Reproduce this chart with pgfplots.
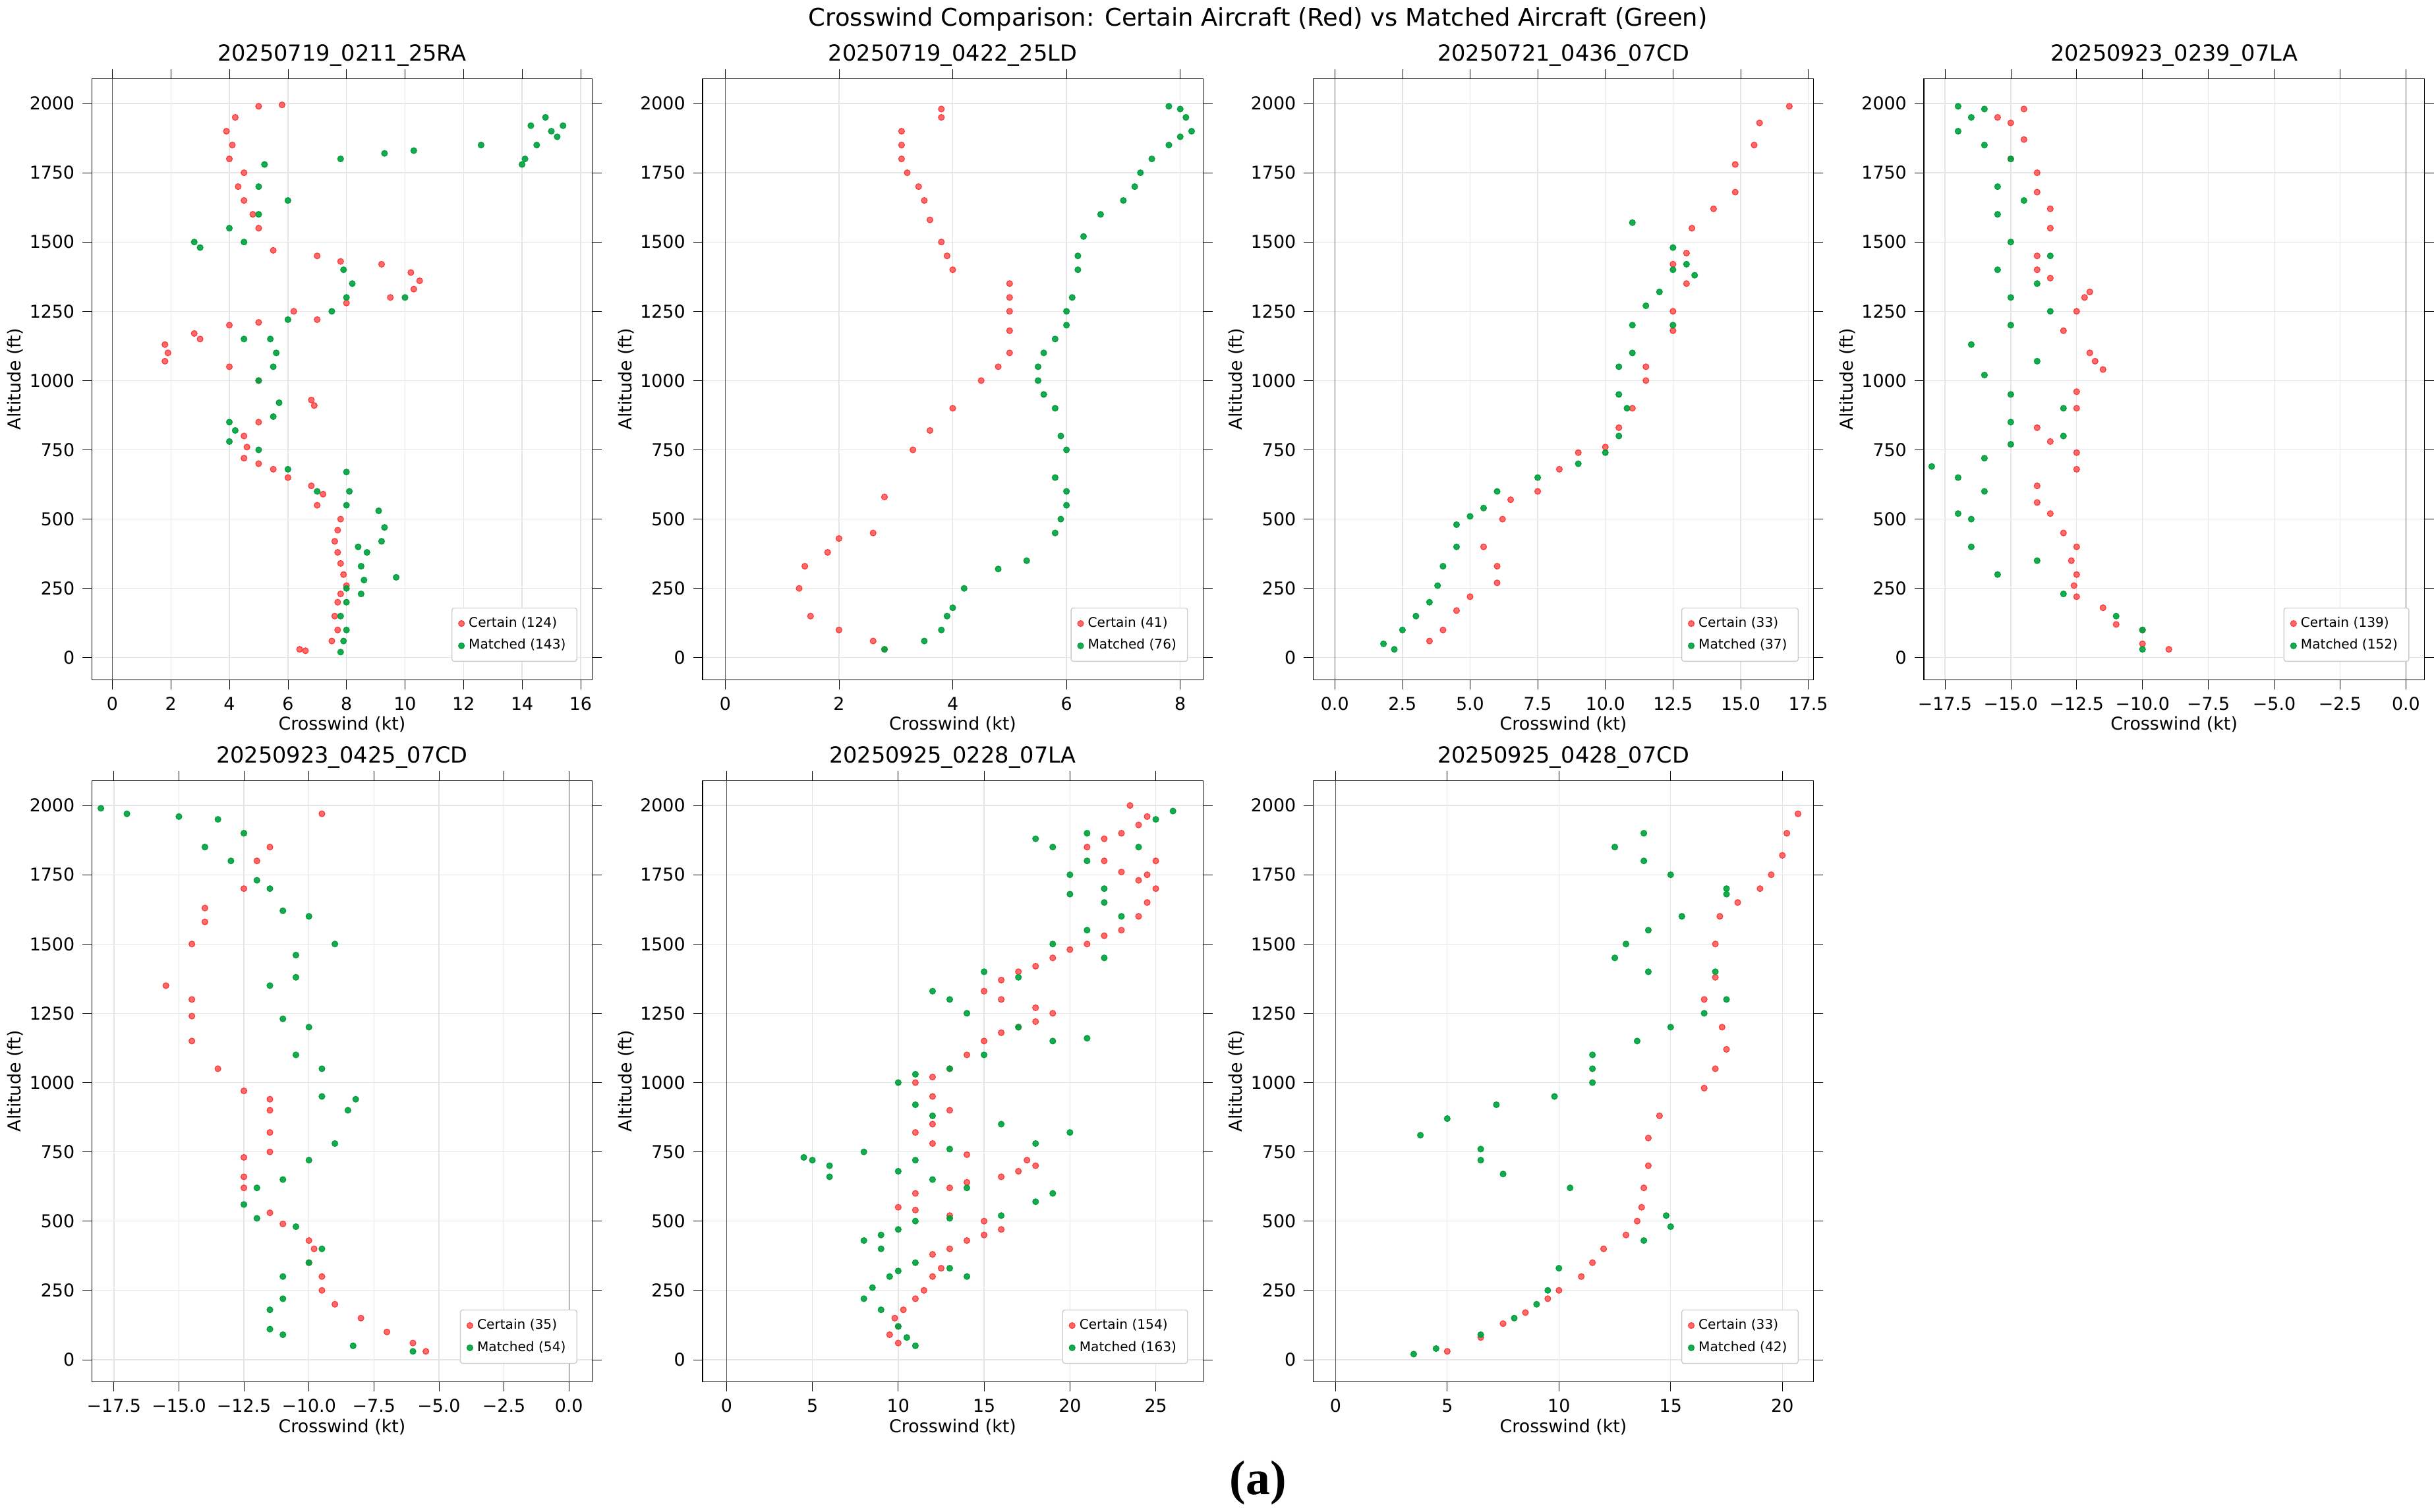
\documentclass[border=0pt]{standalone}
\usepackage{pgfplots}
\pgfplotsset{compat=1.18}
\usepgfplotslibrary{groupplots}
\usepackage{fontspec}
\setmainfont{DejaVu Sans}
\newfontfamily\serifb{Liberation Serif}
\definecolor{cred}{RGB}{255,60,60}
\definecolor{cgreen}{RGB}{0,160,60}
\pgfplotsset{
 every axis/.style={scale only axis, width=7.95cm, height=9.55cm,
  ymin=-80, ymax=2090, ytick={0,250,...,2000},
  grid=major, grid style={gray!20, line width=0.4pt},
  tick align=outside, tick style={black},
  font=\fontsize{8}{9}\selectfont,
  /pgf/number format/assume math mode=true,
  /pgf/number format/.cd, 1000 sep={}, /pgfplots/.cd,
  title style={font=\fontsize{10}{11}\selectfont, yshift=-4pt},
  xlabel={Crosswind (kt)}, ylabel={Altitude (ft)},
  xlabel style={yshift=4pt}, ylabel style={yshift=-4pt},
  legend pos=south east, legend cell align=left,
  legend style={font=\fontsize{6}{7}\selectfont, draw=gray!40, rounded corners=1pt},
 },
 cs/.style={only marks, mark=*, mark size=1.3pt, color=cred, mark options={draw=none, fill=cred, fill opacity=0.75}},
 ms/.style={only marks, mark=*, mark size=1.3pt, color=cgreen, mark options={draw=none, fill=cgreen, fill opacity=0.9}},
}
\newcommand{\zl}{\addplot[gray!70!black, forget plot] coordinates {(0,-300)(0,2300)};}
\begin{document}
\begin{tikzpicture}
\begin{groupplot}[group style={group size=4 by 2, horizontal sep=1.75cm, vertical sep=1.6cm}]
\nextgroupplot[title={20250719\_0211\_25RA}, xmin=-0.7, xmax=16.4, xtick={0,2,...,16}]
\zl
\addplot[cs] coordinates {(6.4,30)(6.6,25)(7.5,60)(7.7,100)(7.6,150)(7.7,200)(7.8,230)(8,260)(7.9,300)(7.8,340)(7.7,380)(7.6,420)(7.7,460)(7.8,500)(7,550)(7.2,590)(6.8,620)(6,650)(5.5,680)(5,700)(4.5,720)(4.6,760)(4.5,800)(5,850)(6.8,930)(6.9,910)(5,1000)(4,1050)(1.8,1070)(1.9,1100)(1.8,1130)(2.8,1170)(3,1150)(4,1200)(5,1210)(6.2,1250)(7,1220)(8,1280)(9.5,1300)(10.3,1330)(10.5,1360)(10.2,1390)(9.2,1420)(7.8,1430)(7,1450)(5.5,1470)(5,1550)(4.8,1600)(4.5,1650)(4.3,1700)(4.5,1750)(4,1800)(4.1,1850)(3.9,1900)(4.2,1950)(5,1990)(5.8,1995)};
\addplot[ms] coordinates {(7.8,20)(7.9,60)(8,100)(7.8,150)(8,200)(8,250)(8.5,230)(8.6,280)(8.5,330)(8.7,380)(8.4,400)(9.7,290)(9.2,420)(9.3,470)(9.1,530)(8,550)(8.1,600)(8,670)(7,600)(6,680)(5,750)(4,780)(4.2,820)(4,850)(5.5,870)(5.7,920)(5,1000)(5.5,1050)(5.6,1100)(5.4,1150)(4.5,1150)(6,1220)(7.5,1250)(8,1300)(8.2,1350)(7.9,1400)(10,1300)(3,1480)(2.8,1500)(4.5,1500)(4,1550)(5,1600)(6,1650)(5,1700)(5.2,1780)(7.8,1800)(9.3,1820)(10.3,1830)(12.6,1850)(14,1780)(14.1,1800)(14.5,1850)(14.3,1920)(14.8,1950)(15.2,1880)(15.4,1920)(15,1900)};
\legend{Certain (124), Matched (143)}
\nextgroupplot[title={20250719\_0422\_25LD}, xmin=-0.4, xmax=8.4, xtick={0,2,...,8}]
\zl
\addplot[cs] coordinates {(2.8,30)(2.6,60)(2,100)(1.5,150)(1.3,250)(1.4,330)(1.8,380)(2,430)(2.6,450)(2.8,580)(3.3,750)(3.6,820)(4,900)(4.5,1000)(4.8,1050)(5,1100)(5,1180)(5,1250)(5,1300)(5,1350)(4,1400)(3.9,1450)(3.8,1500)(3.6,1580)(3.5,1650)(3.4,1700)(3.2,1750)(3.1,1800)(3.1,1850)(3.1,1900)(3.8,1950)(3.8,1980)};
\addplot[ms] coordinates {(2.8,30)(3.5,60)(3.8,100)(3.9,150)(4,180)(4.2,250)(4.8,320)(5.3,350)(5.8,450)(5.9,500)(6,550)(6,600)(5.8,650)(6,750)(5.9,800)(5.8,900)(5.6,950)(5.5,1000)(5.5,1050)(5.6,1100)(5.8,1150)(6,1200)(6,1250)(6.1,1300)(6.2,1400)(6.2,1450)(6.3,1520)(6.6,1600)(7,1650)(7.2,1700)(7.3,1750)(7.5,1800)(7.8,1850)(8,1880)(8.2,1900)(8.1,1950)(8,1980)(7.8,1990)};
\legend{Certain (41), Matched (76)}
\nextgroupplot[title={20250721\_0436\_07CD}, xmin=-0.8, xmax=17.7, xtick={0,2.5,...,17.5}, xticklabels={0.0,2.5,5.0,7.5,10.0,12.5,15.0,17.5}]
\zl
\addplot[cs] coordinates {(3.5,60)(4,100)(4.5,170)(5,220)(6,270)(6,330)(5.5,400)(6.2,500)(6.5,570)(7.5,600)(8.3,680)(9,740)(10,760)(10.5,830)(11,900)(11.5,1000)(11.5,1050)(12.5,1180)(12.5,1250)(13,1350)(13,1460)(12.5,1420)(13.2,1550)(14,1620)(14.8,1680)(14.8,1780)(15.5,1850)(15.7,1930)(16.8,1990)};
\addplot[ms] coordinates {(1.8,50)(2.2,30)(2.5,100)(3,150)(3.5,200)(3.8,260)(4,330)(4.5,400)(4.5,480)(5,510)(5.5,540)(6,600)(7.5,650)(9,700)(10,740)(10.5,800)(10.8,900)(10.5,950)(10.5,1050)(11,1100)(11,1200)(11.5,1270)(12,1320)(12.5,1400)(12.5,1480)(13,1420)(13.3,1380)(12.5,1200)(11,1570)};
\legend{Certain (33), Matched (37)}
\nextgroupplot[title={20250923\_0239\_07LA}, xmin=-18.3, xmax=0.7, xtick={-17.5,-15,...,0}, xticklabels={−17.5,−15.0,−12.5,−10.0,−7.5,−5.0,−2.5,0.0}]
\zl
\addplot[cs] coordinates {(-9,30)(-10,50)(-10,100)(-11,120)(-11.5,180)(-12.5,220)(-12.6,260)(-12.5,300)(-12.7,350)(-12.5,400)(-13,450)(-13.5,520)(-14,560)(-14,620)(-12.5,680)(-12.5,740)(-13.5,780)(-14,830)(-12.5,900)(-12.5,960)(-11.5,1040)(-11.8,1070)(-12,1100)(-13,1180)(-12.5,1250)(-12,1320)(-12.2,1300)(-13.5,1370)(-14,1400)(-14,1450)(-13.5,1550)(-13.5,1620)(-14,1680)(-14,1750)(-15,1800)(-14.5,1870)(-15,1930)(-14.5,1980)(-15.5,1950)};
\addplot[ms] coordinates {(-10,30)(-10,100)(-11,150)(-13,230)(-15.5,300)(-14,350)(-16.5,400)(-16.5,500)(-17,520)(-16,600)(-17,650)(-18,690)(-16,720)(-15,770)(-13,800)(-15,850)(-13,900)(-15,950)(-16,1020)(-14,1070)(-16.5,1130)(-15,1200)(-13.5,1250)(-15,1300)(-14,1350)(-15.5,1400)(-13.5,1450)(-15,1500)(-15.5,1600)(-14.5,1650)(-15.5,1700)(-15,1800)(-16,1850)(-17,1900)(-16.5,1950)(-17,1990)(-16,1980)};
\legend{Certain (139), Matched (152)}
\nextgroupplot[title={20250923\_0425\_07CD}, xmin=-18.35, xmax=0.9, xtick={-17.5,-15,...,0}, xticklabels={−17.5,−15.0,−12.5,−10.0,−7.5,−5.0,−2.5,0.0}]
\zl
\addplot[cs] coordinates {(-5.5,30)(-6,60)(-7,100)(-8,150)(-9,200)(-9.5,250)(-9.5,300)(-10,350)(-9.8,400)(-10,430)(-11,490)(-11.5,530)(-12.5,620)(-12.5,660)(-12.5,730)(-11.5,750)(-11.5,820)(-11.5,900)(-11.5,940)(-12.5,970)(-13.5,1050)(-14.5,1150)(-14.5,1240)(-14.5,1300)(-15.5,1350)(-14.5,1500)(-14,1580)(-14,1630)(-12.5,1700)(-12,1800)(-11.5,1850)(-9.5,1970)};
\addplot[ms] coordinates {(-6,30)(-8.3,50)(-11,90)(-11.5,110)(-11.5,180)(-11,220)(-11,300)(-10,350)(-9.5,400)(-10.5,480)(-12,510)(-12.5,560)(-12,620)(-11,650)(-10,720)(-9,780)(-8.5,900)(-8.2,940)(-9.5,950)(-9.5,1050)(-10.5,1100)(-10,1200)(-11,1230)(-11.5,1350)(-10.5,1380)(-10.5,1460)(-10,1600)(-9,1500)(-11,1620)(-11.5,1700)(-12,1730)(-13,1800)(-14,1850)(-12.5,1900)(-13.5,1950)(-15,1960)(-17,1970)(-18,1990)};
\legend{Certain (35), Matched (54)}
\nextgroupplot[title={20250925\_0228\_07LA}, xmin=-1.4, xmax=27.75, xtick={0,5,...,25}]
\zl
\addplot[cs] coordinates {(9.5,90)(10,60)(10,120)(9.8,150)(10.3,180)(11,220)(11.5,250)(12,300)(12.5,330)(12,380)(13,400)(14,430)(15,450)(16,470)(15,500)(13,520)(11,540)(10,550)(11,600)(13,620)(14,640)(16,660)(17,680)(18,700)(17.5,720)(14,740)(12,780)(11,820)(12,850)(13,900)(12,950)(11,1000)(12,1020)(13,1050)(14,1100)(15,1150)(16,1180)(17,1200)(18,1220)(19,1250)(18,1270)(16,1300)(15,1330)(16,1370)(17,1400)(18,1420)(19,1450)(20,1480)(21,1500)(22,1530)(23,1550)(24,1600)(24.5,1650)(25,1700)(24,1730)(23,1760)(22,1800)(21,1850)(22,1880)(23,1900)(24,1930)(24.5,1960)(23.5,2000)(25,1800)(24.5,1750)};
\addplot[ms] coordinates {(11,50)(10.5,80)(10,120)(9,180)(8,220)(8.5,260)(9.5,300)(10,320)(11,350)(13,330)(14,300)(9,400)(8,430)(9,450)(10,470)(11,500)(13,510)(16,520)(18,570)(19,600)(14,620)(12,650)(10,680)(8,750)(6,700)(5,720)(4.5,730)(6,660)(11,720)(13,760)(18,780)(20,820)(16,850)(12,880)(11,920)(10,1000)(11,1030)(13,1050)(15,1100)(19,1150)(21,1160)(17,1200)(14,1250)(13,1300)(12,1330)(15,1400)(17,1380)(19,1500)(22,1450)(21,1550)(23,1600)(22,1700)(20,1750)(21,1800)(19,1850)(18,1880)(21,1900)(24,1850)(25,1950)(26,1980)(22,1650)(20,1680)};
\legend{Certain (154), Matched (163)}
\nextgroupplot[title={20250925\_0428\_07CD}, xmin=-1, xmax=21.4, xtick={0,5,...,20}]
\zl
\addplot[cs] coordinates {(5,30)(6.5,80)(7.5,130)(8.5,170)(9.5,220)(10,250)(11,300)(11.5,350)(12,400)(13,450)(13.5,500)(13.7,550)(13.8,620)(14,700)(14,800)(14.5,880)(16.5,980)(17,1050)(17.5,1120)(17.3,1200)(16.5,1300)(17,1380)(17,1500)(17.2,1600)(18,1650)(19,1700)(19.5,1750)(20,1820)(20.2,1900)(20.7,1970)};
\addplot[ms] coordinates {(3.5,20)(4.5,40)(6.5,90)(8,150)(9,200)(9.5,250)(10,330)(10.5,620)(13.8,430)(15,480)(14.8,520)(9.8,950)(11.5,1000)(11.5,1050)(11.5,1100)(13.5,1150)(15,1200)(16.5,1250)(17.5,1300)(17,1400)(14,1400)(12.5,1450)(13,1500)(14,1550)(15.5,1600)(17.5,1680)(17.5,1700)(15,1750)(13.8,1800)(12.5,1850)(13.8,1900)(3.8,810)(5,870)(6.5,720)(6.5,760)(7.5,670)(7.2,920)};
\legend{Certain (33), Matched (42)}
\nextgroupplot[group/empty plot]
\end{groupplot}
\node[font=\fontsize{11}{12}\selectfont, anchor=south] at ([yshift=18pt]$(group c2r1.north east)!0.5!(group c3r1.north west)$) {Crosswind Comparison: Certain Aircraft (Red) vs Matched Aircraft (Green)};
\node[font=\serifb\bfseries\fontsize{22}{24}\selectfont, anchor=north] at ([yshift=-32pt]$(group c2r2.south east)!0.5!(group c3r2.south west)$) {(a)};
\end{tikzpicture}
\end{document}
